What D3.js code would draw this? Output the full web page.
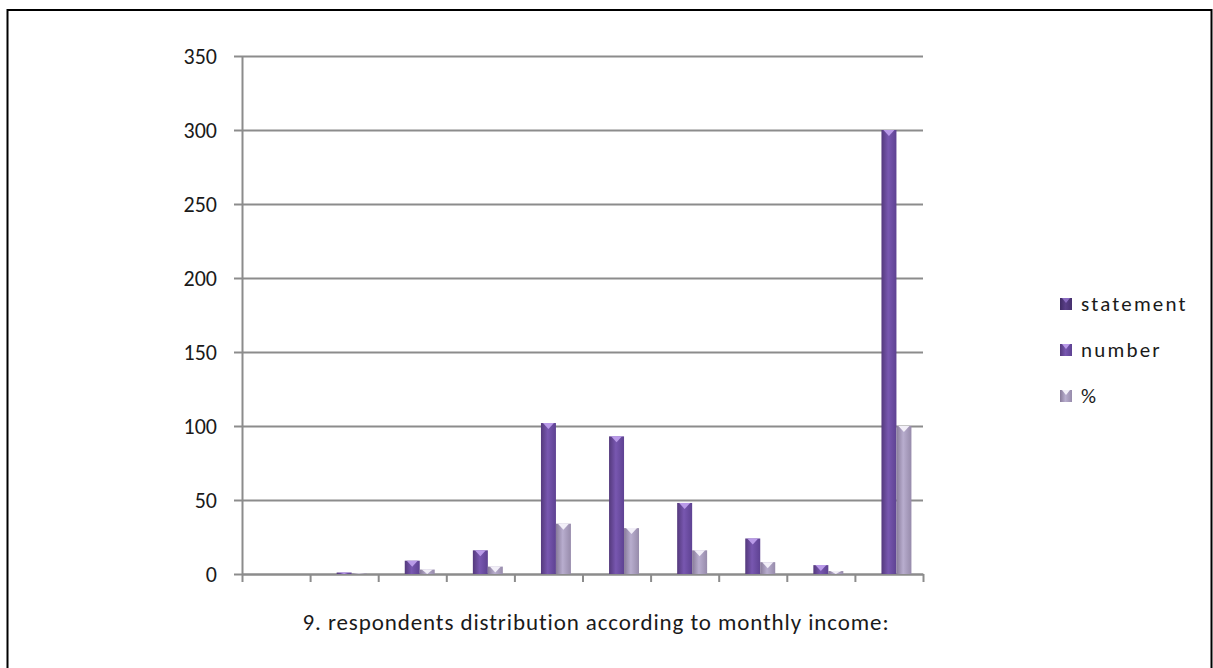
<!DOCTYPE html>
<html>
<head>
<meta charset="utf-8">
<script src="https://cdn.jsdelivr.net/npm/d3@7"></script>
<style>
  body { margin: 0; background: #fff; }
  svg { display: block; font-family: Carlito, Lato, sans-serif; }
</style>
</head>
<body>
<div id="chart"></div>
<script>
// data
const categories = ["c1", "c2", "c3", "c4", "c5", "c6", "c7", "c8", "c9", "c10"];
const seriesNames = ["statement", "number", "%"];
const statementValues = [0, 0, 0, 0, 0, 0, 0, 0, 0, 0];
const numberValues = [0, 1, 9, 16, 102, 93, 48, 24, 6, 300];
const percentValues = [0, 0.3, 3, 5, 34, 31, 16, 8, 2, 100];
const yTicks = [0, 50, 100, 150, 200, 250, 300, 350];
const title = "9. respondents distribution according to monthly income:";

const seriesValues = [statementValues, numberValues, percentValues];

const width = 1213, height = 668;
const plotLeft = 242, plotRight = 923, plotTop = 56, plotBottom = 574;

const svg = d3.select("#chart")
    .append("svg")
    .attr("width", width)
    .attr("height", height);

// gradients for bars
const defs = svg.append("defs");
const grads = [
    { id: "g0", stops: ["#3f2b63", "#5a3f88", "#46306e"] },
    { id: "g1", stops: ["#54397c", "#7857b0", "#5e4292"] },
    { id: "g2", stops: ["#877a99", "#b8adce", "#978bab"] }
];
grads.forEach(function(g) {
    const lg = defs.append("linearGradient")
        .attr("id", g.id)
        .attr("x1", "0").attr("x2", "1").attr("y1", "0").attr("y2", "0");
    lg.append("stop").attr("offset", "0%").attr("stop-color", g.stops[0]);
    lg.append("stop").attr("offset", "45%").attr("stop-color", g.stops[1]);
    lg.append("stop").attr("offset", "100%").attr("stop-color", g.stops[2]);
});
const capColors = ["#8a6cc0", "#b99ae8", "#f2eff8"];

// frame
svg.append("rect")
    .attr("x", 7.5)
    .attr("y", 10)
    .attr("width", 1204)
    .attr("height", 680)
    .attr("fill", "none")
    .attr("stroke", "#000")
    .attr("stroke-width", 2);

// scales
const x = d3.scaleBand()
    .domain(categories)
    .range([plotLeft, plotRight]);

const xi = d3.scaleLinear()
    .domain([0, categories.length])
    .range([plotLeft, plotRight]);

const x1 = d3.scaleBand()
    .domain(seriesNames)
    .range([x.bandwidth() * 0.17, x.bandwidth() * 0.83]);

const y = d3.scaleLinear()
    .domain([0, 350])
    .range([plotBottom, plotTop]);

// gridlines
svg.append("g")
    .attr("transform", "translate(" + plotLeft + ",0)")
    .call(d3.axisLeft(y).tickValues(yTicks).tickSize(-(plotRight - plotLeft)).tickFormat(""))
    .call(g => g.select(".domain").remove())
    .selectAll("line")
    .attr("stroke", "#8c8c8c")
    .attr("stroke-width", 2);

// y axis
const yAxis = svg.append("g")
    .attr("transform", "translate(" + plotLeft + ",0)")
    .call(d3.axisLeft(y).tickValues(yTicks).tickSize(8).tickSizeOuter(0).tickPadding(17));
yAxis.select(".domain").attr("stroke", "#8c8c8c").attr("stroke-width", 2);
yAxis.selectAll("line").attr("stroke", "#8c8c8c").attr("stroke-width", 2);
yAxis.selectAll("text")
    .attr("fill", "#1a1a1a")
    .style("font-size", "22px")
    .style("font-family", "Carlito, Lato, sans-serif");

// x axis
const xAxis = svg.append("g")
    .attr("transform", "translate(0," + plotBottom + ")")
    .call(d3.axisBottom(xi).tickValues(d3.range(categories.length + 1)).tickSize(8).tickSizeOuter(0).tickFormat(""));
xAxis.select(".domain").attr("stroke", "#8c8c8c").attr("stroke-width", 2);
xAxis.selectAll("line").attr("stroke", "#8c8c8c").attr("stroke-width", 2);

// bars
const rows = [];
categories.forEach(function(c, i) {
    seriesNames.forEach(function(s, j) {
        rows.push({ cat: c, series: s, si: j, value: seriesValues[j][i] });
    });
});

const bars = svg.append("g")
    .selectAll("g")
    .data(rows.filter(d => d.value > 0))
    .enter()
    .append("g");

bars.append("rect")
    .attr("x", d => x(d.cat) + x1(d.series))
    .attr("y", d => y(d.value))
    .attr("width", x1.bandwidth())
    .attr("height", d => y(0) - y(d.value))
    .attr("fill", d => "url(#g" + d.si + ")");

bars.append("path")
    .attr("d", function(d) {
        const x0 = x(d.cat) + x1(d.series);
        const w = x1.bandwidth();
        const t = y(d.value);
        const h = Math.min(6, y(0) - t);
        return "M" + (x0 + 2) + "," + t + "L" + (x0 + w - 2) + "," + t + "L" + (x0 + w / 2) + "," + (t + h) + "Z";
    })
    .attr("fill", d => capColors[d.si]);

// legend
const legend = svg.append("g")
    .selectAll("g")
    .data(seriesNames)
    .enter()
    .append("g")
    .attr("transform", (d, i) => "translate(1060," + (304 + i * 46) + ")");

legend.append("rect")
    .attr("x", 0)
    .attr("y", -6)
    .attr("width", 12)
    .attr("height", 12)
    .attr("fill", (d, i) => "url(#g" + i + ")");

legend.append("path")
    .attr("d", "M2,-6L10,-6L6,-1Z")
    .attr("fill", (d, i) => capColors[i]);

legend.append("text")
    .attr("x", 21)
    .attr("y", 0)
    .attr("dy", "0.35em")
    .attr("fill", "#1a1a1a")
    .style("font-size", "21px")
    .style("letter-spacing", "2.2px")
    .text(d => d);

// title
svg.append("text")
    .attr("x", 596)
    .attr("y", 630)
    .attr("text-anchor", "middle")
    .attr("fill", "#1a1a1a")
    .style("font-size", "23px")
    .style("letter-spacing", "0.9px")
    .text(title);
</script>
</body>
</html>
